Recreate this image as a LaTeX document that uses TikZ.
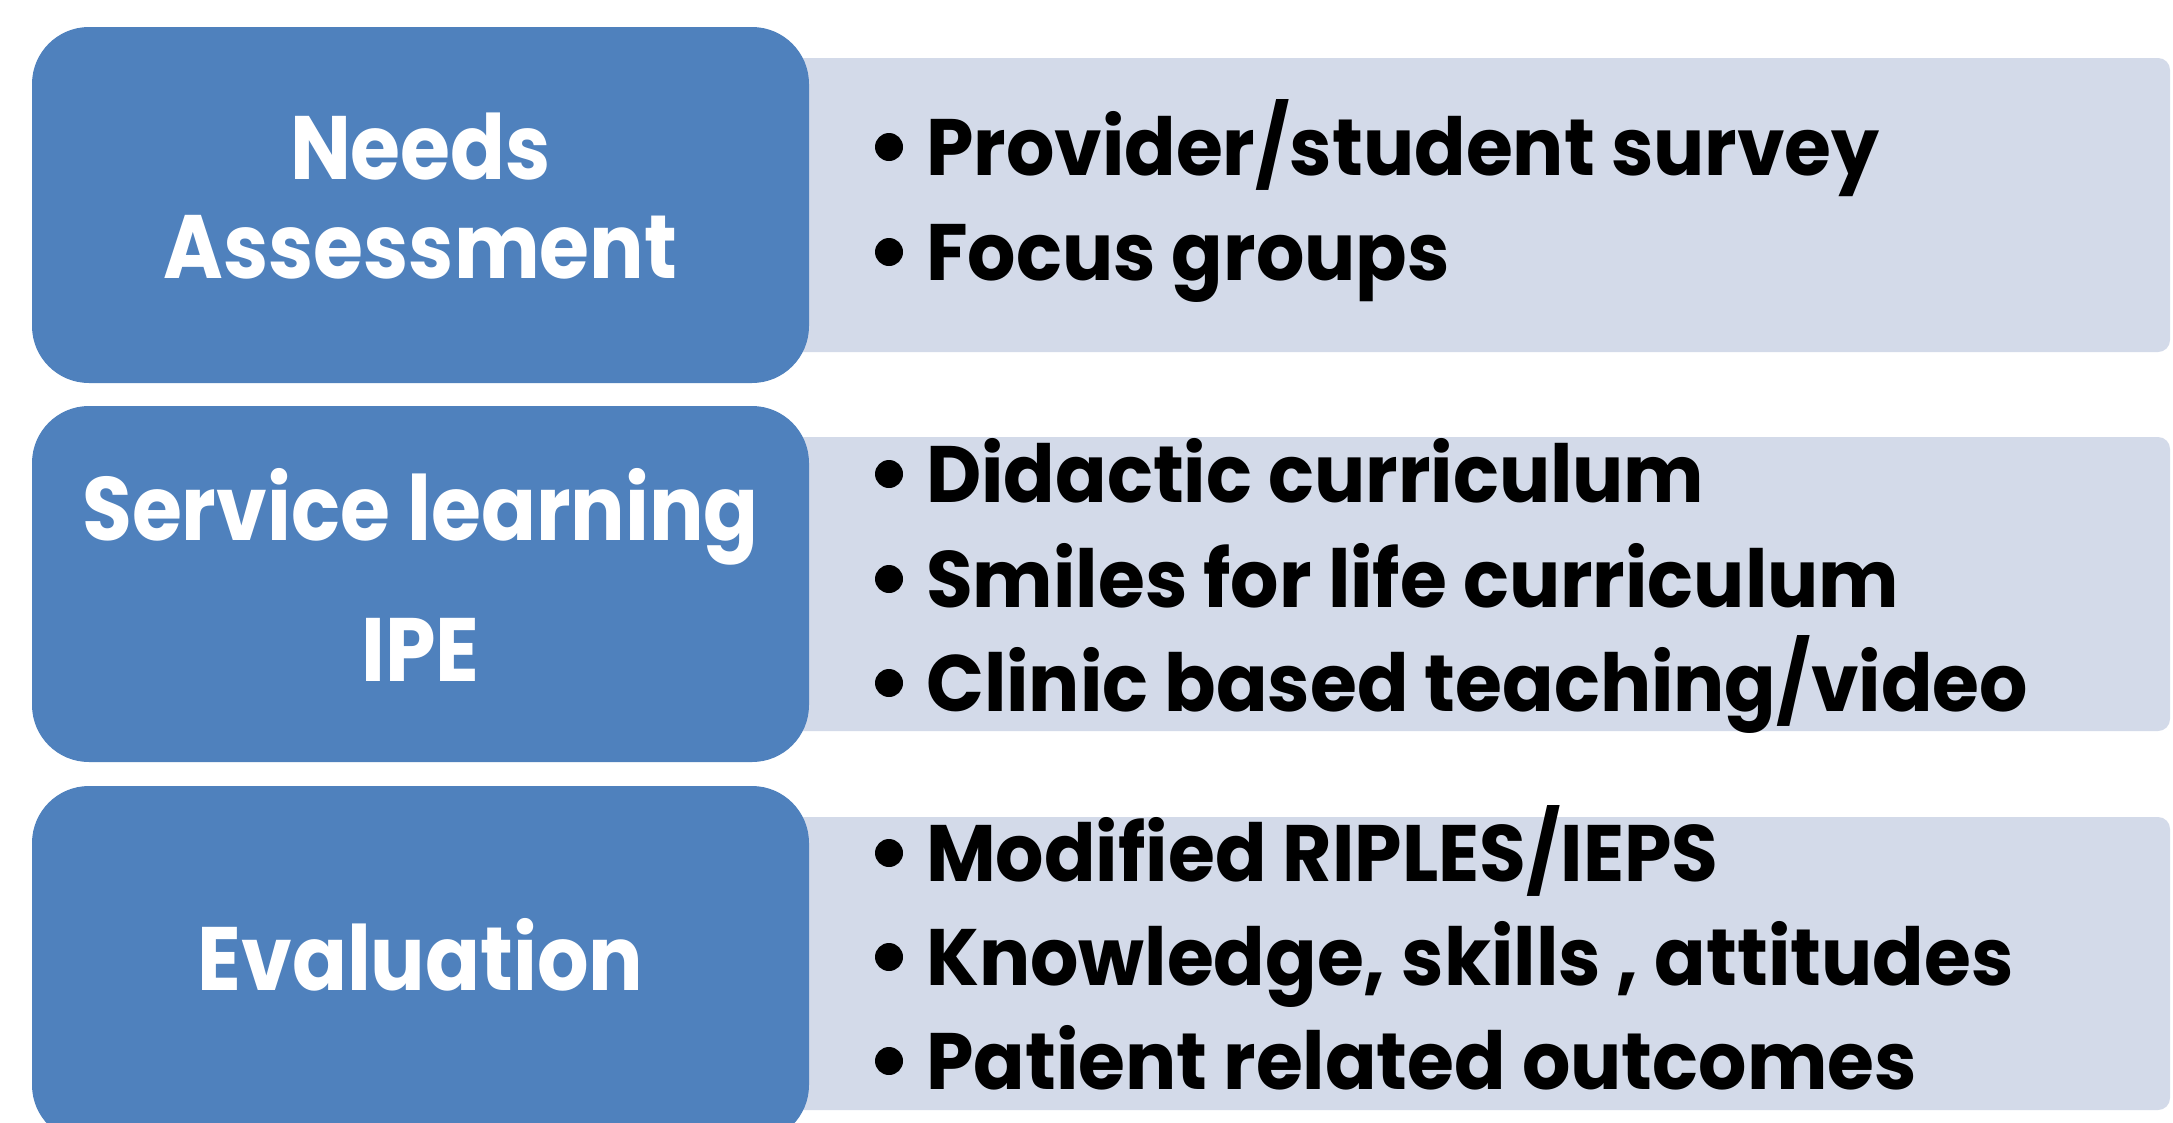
\documentclass[tikz,border=0pt]{standalone}
\usepackage{fontspec}
\setmainfont{Poppins}
\newfontfamily\stagefont{Poppins}[FakeStretch=0.9]
\newfontfamily\itemfont{Poppins}[FakeStretch=0.95]
\definecolor{stageblue}{HTML}{4F81BD}
\definecolor{itemgray}{HTML}{D3DAE9}
\tikzset{
  stagebox/.style={fill=stageblue, draw=none, rounded corners=57pt, minimum width=777pt, minimum height=356pt, inner sep=0pt},
  stagelabel/.style={inner sep=0pt, text=white, align=center, font=\fontsize{90}{99}\stagefont\bfseries, yshift=9pt},
  itembox/.style={fill=itemgray, draw=none, rounded corners=12pt, inner sep=0pt},
  itemtext/.style={anchor=base west, inner sep=0pt, text=black, font=\fontsize{80}{96}\itemfont\bfseries},
  bulletdot/.style={fill=black}
}
\begin{document}
\begin{tikzpicture}[x=1pt,y=-1pt]
\useasboundingbox (0,0) rectangle (2173,1122);
\fill[white] (0,0) rectangle (2173,1122);
% gray item panels
\node[itembox, minimum width=1390pt, minimum height=294pt] (g1) at (1475,205) {};
\node[itembox, minimum width=1390pt, minimum height=294pt] (g2) at (1475,584) {};
\node[itembox, minimum width=1390pt, minimum height=293pt] (g3) at (1475,963.5) {};
% blue stage boxes
\node[stagebox] (s1) at (420.5,205) {};
\node[stagebox] (s2) at (420.5,584) {};
\node[stagebox] (s3) at (420.5,964) {};
\node[stagelabel] (l1) at (s1.center) {Needs\\Assessment};
\node[stagelabel] (l2) at (s2.center) {Service learning\\[42pt]IPE};
\node[stagelabel] (l3) at (s3.center) {Evaluation};
% items
\foreach \name/\yy/\txt in {
  t11/175/{Provider/student survey},
  t12/280/{Focus groups},
  t21/502/{Didactic curriculum},
  t22/607/{Smiles for life curriculum},
  t23/711/{Clinic based teaching/video},
  t31/881/{Modified RIPLES/IEPS},
  t32/985/{Knowledge, skills , attitudes},
  t33/1089/{Patient related outcomes}}{
  \fill[bulletdot] (889,\yy-28) circle (14);
  \node[itemtext] (\name) at (926,\yy) {\txt};
}
\end{tikzpicture}
\end{document}
